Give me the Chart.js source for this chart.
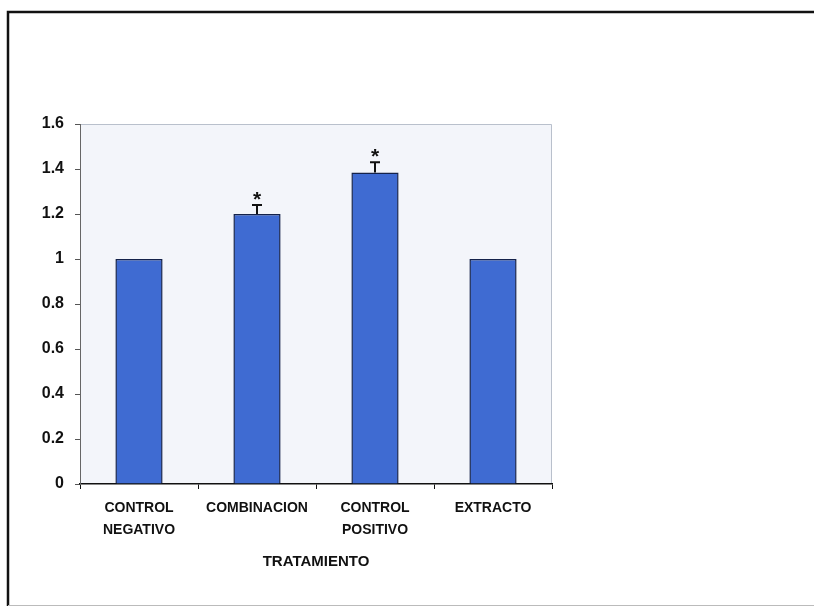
<!DOCTYPE html>
<html lang="es">
<head>
    <meta charset="UTF-8">
    <title>Tratamiento</title>
    <script src="https://cdn.jsdelivr.net/npm/chart.js"></script>
    <style>
        html, body { margin: 0; padding: 0; background: #ffffff; }
        #chart { display: block; }
    </style>
</head>
<body>
    <canvas id="chart" width="814" height="611"></canvas>

    <script>
        // chart data
        const categories = [['CONTROL', 'NEGATIVO'], 'COMBINACION', ['CONTROL', 'POSITIVO'], 'EXTRACTO'];
        const values = [1.0, 1.2, 1.385, 1.0];
        const errors = [0, 0.04, 0.045, 0];
        const marks = ['', '*', '*', ''];
        const yTickLabels = ['0', '0.2', '0.4', '0.6', '0.8', '1', '1.2', '1.4', '1.6'];
        const axisTitle = 'TRATAMIENTO';

        const fontFamily = '"Liberation Sans", Arial, sans-serif';

        // frame, plot background, error bars and asterisks
        const decorations = {
            id: 'decorations',
            beforeDraw(chart) {
                const ctx = chart.ctx;
                const a = chart.chartArea;
                ctx.save();
                ctx.fillStyle = '#f3f5fa';
                ctx.fillRect(a.left, a.top, a.right - a.left, a.bottom - a.top);
                ctx.strokeStyle = '#b9c0cc';
                ctx.lineWidth = 1;
                ctx.beginPath();
                ctx.moveTo(a.left, a.top + 0.5);
                ctx.lineTo(a.right - 0.5, a.top + 0.5);
                ctx.lineTo(a.right - 0.5, a.bottom);
                ctx.stroke();

                // outer frame
                ctx.strokeStyle = '#111';
                ctx.lineWidth = 2.5;
                ctx.beginPath();
                ctx.moveTo(8, 606);
                ctx.lineTo(8, 12);
                ctx.lineTo(814, 12);
                ctx.stroke();
                ctx.strokeStyle = '#bbb';
                ctx.lineWidth = 1;
                ctx.beginPath();
                ctx.moveTo(8, 605.5);
                ctx.lineTo(814, 605.5);
                ctx.stroke();
                ctx.restore();
            },
            afterDatasetsDraw(chart) {
                const ctx = chart.ctx;
                const y = chart.scales.y;
                const meta = chart.getDatasetMeta(0);
                ctx.save();
                ctx.strokeStyle = '#111';
                ctx.fillStyle = '#111';
                ctx.lineWidth = 2;
                meta.data.forEach((bar, i) => {
                    const top = y.getPixelForValue(values[i]);
                    let markY = top;
                    if (errors[i] > 0) {
                        const cap = y.getPixelForValue(values[i] + errors[i]);
                        ctx.beginPath();
                        ctx.moveTo(bar.x, top);
                        ctx.lineTo(bar.x, cap);
                        ctx.moveTo(bar.x - 5, cap);
                        ctx.lineTo(bar.x + 5, cap);
                        ctx.stroke();
                        markY = cap;
                    }
                    if (marks[i]) {
                        ctx.font = 'bold 21px ' + fontFamily;
                        ctx.textAlign = 'center';
                        ctx.textBaseline = 'alphabetic';
                        ctx.fillText(marks[i], bar.x, markY + 1);
                    }
                });
                ctx.restore();
            }
        };

        new Chart(document.getElementById('chart').getContext('2d'), {
            type: 'bar',
            data: {
                labels: categories,
                datasets: [{
                    data: values,
                    backgroundColor: '#3f6bd2',
                    borderColor: '#14224a',
                    borderWidth: 1.5,
                    categoryPercentage: 1,
                    barPercentage: 0.4
                }]
            },
            options: {
                responsive: false,
                animation: false,
                events: [],
                layout: { padding: { left: 0, top: 124, right: 262, bottom: 0 } },
                plugins: {
                    legend: { display: false },
                    tooltip: { enabled: false }
                },
                scales: {
                    x: {
                        afterFit(scale) { scale.height = 127; },
                        grid: { drawOnChartArea: false, tickLength: 5, color: '#111', offset: true },
                        border: { color: '#111', width: 1.5 },
                        ticks: {
                            color: '#111',
                            maxRotation: 0,
                            padding: 8,
                            font: { family: fontFamily, size: 14, weight: 'bold', lineHeight: 1.6 }
                        },
                        title: {
                            display: true,
                            text: axisTitle,
                            color: '#111',
                            padding: { top: 0, bottom: 40 },
                            font: { family: fontFamily, size: 15, weight: 'bold' }
                        }
                    },
                    y: {
                        min: 0,
                        max: 1.6,
                        afterFit(scale) { scale.width = 80; },
                        grid: { drawOnChartArea: false, tickLength: 5, color: '#555' },
                        border: { color: '#666', width: 1 },
                        ticks: {
                            stepSize: 0.2,
                            color: '#111',
                            padding: 11,
                            font: { family: fontFamily, size: 16, weight: 'bold' },
                            callback: (v, i) => yTickLabels[i]
                        }
                    }
                }
            },
            plugins: [decorations]
        });
    </script>
</body>
</html>
